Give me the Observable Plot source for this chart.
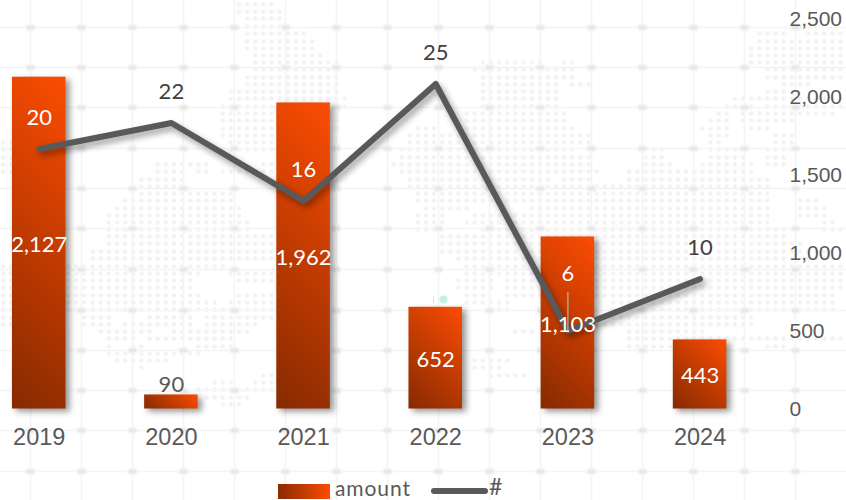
<!DOCTYPE html>
<html><head><meta charset="utf-8">
<script src="https://cdn.jsdelivr.net/npm/d3@7"></script>
<script src="https://cdn.jsdelivr.net/npm/@observablehq/plot@0.6"></script>
<style>
html,body{margin:0;padding:0;background:#fff;overflow:hidden}
#wrap{position:relative;width:846px;height:500px;overflow:hidden}
#bg,#fg{position:absolute;left:0;top:0}
.lg{position:absolute;font:21px Lato,sans-serif;color:#595959;line-height:18px}
</style></head><body>
<div id="wrap"><div id="bg"></div><div id="fg"></div>
<div class="lg" style="left:278px;top:484px;width:52px;height:15px;background:linear-gradient(to right,#8a2b00,#fc4c02)"></div>
<div class="lg" style="left:335px;top:479px;letter-spacing:.9px">amount</div>
<div class="lg" style="left:431px;top:488px;width:57px;height:6px;border-radius:3px;background:#595959"></div>
<div class="lg" style="left:489px;top:477px;font-size:23px">#</div>
</div>
<script>
const years = ["2019","2020","2021","2022","2023","2024"];
const amounts = [2127,90,1962,652,1103,443];
const counts = [20,22,16,25,6,10];
const amountTicks = [0,500,1000,1500,2000,2500];
const axisRatio = 2500/30;
const leaderEnd = 747;

const gridX = [30,81,132,183,234,285,336,387,438,489,540,591,642,693,744,795];
const gridY = [27,67,107,148,188,228,269,310,350,390,430,471];
// decorative dotted map: [row y, from x, to x]
const mapSpans = [
[4,238,268],[11,238,276],[18,247,276],[26,247,284],[33,247,300],[33,760,780],[33,810,846],
[41,247,308],[41,760,846],[48,247,308],[48,752,846],[55,255,316],[55,752,846],
[62,255,332],[62,483,540],[62,565,575],[62,752,846],[69,255,332],[69,475,553],[69,565,575],[69,768,846],
[77,247,340],[77,483,553],[77,565,575],[77,768,846],[84,247,340],[84,483,553],[84,572,585],[84,785,810],
[91,232,340],[91,483,553],[91,768,785],[98,232,348],[98,483,553],[98,736,846],
[106,224,348],[106,483,553],[106,728,750],[106,768,846],[113,224,340],[113,468,560],[113,720,730],[113,745,830],
[120,224,340],[120,468,560],[120,712,730],[120,745,790],[128,224,340],[128,418,430],[128,468,570],[128,705,725],[128,752,765],
[135,224,290],[135,410,455],[135,470,585],[135,712,725],[135,775,790],[142,232,290],[142,410,460],[142,470,585],[142,712,720],[142,775,790],[142,0,25],
[149,232,270],[149,402,460],[149,470,570],[149,645,665],[149,712,740],[149,770,790],[149,0,25],
[157,402,470],[157,480,552],[157,560,585],[157,645,660],[157,712,740],[157,770,785],[157,0,25],
[164,158,202],[164,265,275],[164,395,552],[164,560,590],[164,645,670],[164,705,750],[164,770,785],[164,0,25],
[171,158,178],[171,200,210],[171,225,268],[171,402,600],[171,630,750],[171,0,25],
[179,142,178],[179,410,550],[179,560,590],[179,630,770],[186,142,178],[186,410,770],
[193,140,228],[193,418,770],[200,125,228],[200,418,770],[200,800,815],[208,118,235],[208,425,470],[208,530,770],[208,800,825],
[215,109,235],[215,418,440],[215,475,770],[215,800,825],[222,109,243],[222,418,445],[222,470,770],[222,825,830],
[229,109,250],[229,418,445],[229,480,780],[229,825,846],[236,109,268],[236,442,780],[243,109,268],[243,442,800],
[251,92,268],[251,442,830],[258,92,268],[258,460,830],[266,0,220],[266,465,840],[273,0,200],[273,232,268],[273,470,840],
[280,0,190],[280,240,268],[280,460,490],[280,510,840],[287,0,190],[287,460,490],[287,510,846],
[295,0,200],[295,240,268],[295,465,480],[295,510,830],[302,0,215],[302,232,268],[302,470,510],[302,610,830],
[309,0,270],[309,490,510],[309,610,830],[317,5,15],[317,85,110],[317,150,190],[317,205,270],[317,600,750],
[324,5,15],[324,85,110],[324,125,190],[324,205,258],[324,600,750],[331,100,150],[331,175,190],[331,200,250],[331,515,530],[331,630,700],
[338,108,130],[338,150,228],[338,630,846],[346,110,112],[346,135,137],[346,200,228],[346,630,700],[346,770,780],
[353,110,200],[360,118,145],[360,160,162],[360,475,510],[367,140,142],[367,475,500],
[375,265,280],[375,490,520],[382,215,230],[382,255,290],[389,200,245],[389,258,275],[397,205,250],[404,225,240]
];
const mapDots = mapSpans.flatMap(([y,a,b]) => d3.range(Math.round((a-2.7)/8.13), Math.round((b-2.7)/8.13)+1).map(i => ({x:2.7+i*8.13,y})));
const nodes = gridX.flatMap(x => gridY.map(y => ({x,y})));
const oval = {draw(c,size){const r=Math.sqrt(size/Math.PI),a=r*1.5,b=r*.95,k=.5523;
  c.moveTo(a,0);c.bezierCurveTo(a,b*k,a*k,b,0,b);c.bezierCurveTo(-a*k,b,-a,b*k,-a,0);c.bezierCurveTo(-a,-b*k,-a*k,-b,0,-b);c.bezierCurveTo(a*k,-b,a,-b*k,a,0);c.closePath();}};

const identity = {type:"identity"};
document.getElementById("bg").append(Plot.plot({
  width:846,height:500,margin:0,x:identity,y:identity,axis:null,
  marks:[
    Plot.dot(mapDots,{x:"x",y:"y",r:2.2,fill:"#f3f3f3"}),
    Plot.ruleX(gridX,{x:d=>d,stroke:"#f4f4f4",strokeWidth:1.5}),
    Plot.ruleY(gridY,{y:d=>d,stroke:"#f4f4f4",strokeWidth:1.5}),
    Plot.dot(nodes,{x:"x",y:"y",r:3.2,symbol:oval,fill:"#e8e8e8",stroke:"#f5f5f5",strokeWidth:2}),
    Plot.dot([{x:443,y:299}],{x:"x",y:"y",r:4,fill:"#c4efe6"}),
    Plot.ruleX([{x:433,y1:296,y2:303}],{x:"x",y1:"y1",y2:"y2",stroke:"#c4efe6"}),
  ]
}));

const data = years.map((year,i)=>({year,amount:amounts[i],count:counts[i],pos:counts[i]*axisRatio}));
const inBars = data.filter(d=>d.amount>100);
const above = data.filter(d=>d.amount<=100);
const labelFont = {fontFamily:"Lato, sans-serif",fontSize:22};
const isWhite = d => ["2019","2021","2023"].includes(d.year);
const comma = d3.format(",");

const chart = Plot.plot({
  width:846,height:470,marginLeft:0,marginRight:80,marginTop:18.5,marginBottom:61.5,
  style:{background:"transparent",overflow:"hidden",fontFamily:"'Liberation Sans', Arial, sans-serif"},
  x:{domain:years,range:[-27.7,766],round:false,paddingInner:.595,paddingOuter:.3,label:null},
  y:{domain:[0,2500],label:null},
  marks:[
    Plot.ruleY([0],{x1:-1,x2:766,stroke:"#d9d9d9",strokeWidth:2}),
    Plot.barY(data,{x:"year",y:"amount",fill:"#fc4c02",className:"amount-bar",imageFilter:"drop-shadow(4px 3px 3px rgba(0,0,0,.42))"}),
    Plot.line(data,{x:"year",y:"pos",stroke:"#595959",strokeWidth:6,strokeLinecap:"round",strokeLinejoin:"round",imageFilter:"drop-shadow(3px 4px 3px rgba(0,0,0,.38))"}),
    Plot.ruleX(data.filter(d=>d.count===6),{x:"year",y1:"pos",y2:leaderEnd,stroke:"#b5b5b5",strokeWidth:1.2}),
    Plot.text(inBars,{x:"year",y:d=>d.amount/2,text:d=>comma(d.amount),fill:"#fff",dy:1.5,...labelFont}),
    Plot.text(above,{x:"year",y:"amount",text:d=>comma(d.amount),fill:"#595959",dy:-10,...labelFont}),
    Plot.text(data.filter(d=>d.count!==6),{x:"year",y:"pos",text:"count",fill:d=>isWhite(d)?"#fff":"#404040",dy:-31.5,...labelFont}),
    Plot.text(data.filter(d=>d.count===6),{x:"year",y:"pos",text:"count",fill:"#fff",dy:-57,...labelFont}),
    Plot.axisX({anchor:"bottom",tickSize:0,tickPadding:19,fontSize:23.5,fill:"#595959",label:null}),
    Plot.axisY(amountTicks,{anchor:"right",tickSize:0,tickPadding:23,textAnchor:"start",tickFormat:d=>comma(d),fontSize:21,fill:"#595959",label:null})
  ]
});
// per-bar gradient running corner to corner at a true 45 degrees
const svg = d3.select(chart);
const defs = svg.insert("defs",":first-child");
svg.selectAll(".amount-bar rect").each(function(_,i){
  const r=d3.select(this),x=+r.attr("x"),y=+r.attr("y"),w=+r.attr("width"),h=+r.attr("height"),s=(w+h)/2;
  const g=defs.append("linearGradient").attr("id","barGrad"+i).attr("gradientUnits","userSpaceOnUse")
    .attr("x1",x).attr("y1",y+h).attr("x2",x+s).attr("y2",y+h-s);
  g.append("stop").attr("offset",0).attr("stop-color","#862a00");
  g.append("stop").attr("offset",1).attr("stop-color","#fc4c02");
  r.attr("fill",`url(#barGrad${i})`);
});
document.getElementById("fg").append(chart);
</script></body></html>
